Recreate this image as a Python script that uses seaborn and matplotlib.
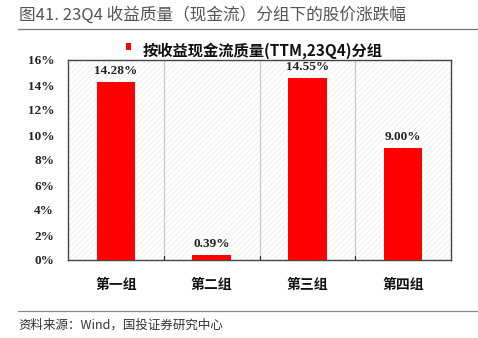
import matplotlib
matplotlib.use("Agg")
import matplotlib.pyplot as plt
import seaborn as sns
import pandas as pd
from matplotlib.patches import Rectangle

groups = ["第一组", "第二组", "第三组", "第四组"]
returns = [14.28, 0.39, 14.55, 9.00]
yticks = [0, 2, 4, 6, 8, 10, 12, 14, 16]
legend_label = "按收益现金流质量(TTM,23Q4)分组"
title = "图41. 23Q4 收益质量（现金流）分组下的股价涨跌幅"
source = "资料来源：Wind，国投证券研究中心"

sns.set_theme(style="white")
plt.rcParams['font.family'] = ['Noto Sans CJK SC', 'DejaVu Sans']
plt.rcParams['hatch.linewidth'] = 0.4
plt.rcParams['hatch.color'] = '#e6e6e6'

df = pd.DataFrame({"group": groups, "ret": returns})

fig = plt.figure(figsize=(4.78, 3.38), dpi=100)
ax = fig.add_axes([68/478, 1-260/338, (451-68)/478, 200/338])

# background hatch
ax.add_patch(Rectangle((0, 0), 1, 1, transform=ax.transAxes, facecolor='white',
                       edgecolor='#e6e6e6', hatch='//////', linewidth=0, zorder=0))

sns.barplot(data=df, x="group", y="ret", color="#ff0000", width=0.4,
            saturation=1, ax=ax, zorder=3, edgecolor="none")

ax.set_ylim(0, 16)
ax.set_xlim(-0.5, 3.5)
ax.set_yticks(yticks)
ax.set_yticklabels([f"{v}%" for v in yticks], fontfamily='Liberation Serif',
                   fontweight='bold', fontsize=9.5, color='#222222')
ax.set_xticks([0, 1, 2, 3])
ax.set_xticklabels(groups, fontweight='bold', fontsize=10, color='#111111')
ax.tick_params(axis='x', length=0, pad=13)
ax.tick_params(axis='y', length=4, direction='in', width=0.8, color='#333333', pad=10)
ax.set_xlabel("")
ax.set_ylabel("")

# vertical separators between categories
for b in [0.5, 1.5, 2.5]:
    ax.axvline(b, color='#c8c8c8', lw=0.9, zorder=2)
    ax.plot([b, b], [0, 0.3], color='#333333', lw=0.9, zorder=4)

for s in ax.spines.values():
    s.set_visible(True)
    s.set_color('#444444')
    s.set_linewidth(1.0)

for i, v in enumerate(returns):
    ax.text(i, v + 0.4, f"{v:.2f}%", ha='center', va='bottom',
            fontfamily='Liberation Serif', fontweight='bold', fontsize=9.5, color='#222222')

# legend
fig.patches.append(Rectangle((126/478, 1-50/338), 5/478, 7/338, transform=fig.transFigure,
                             facecolor='#ff0000', edgecolor='none'))
fig.text(143/478, 1-51/338, legend_label, ha='left', va='center', fontsize=11,
         fontweight='bold', family=['Noto Sans CJK SC', 'DejaVu Sans'], color='#111111')

# title
fig.text(19/478, 1-15/338, title, ha='left', va='center', fontsize=12,
         color='#555555', fontweight='medium')
fig.add_artist(plt.Line2D([18/478, 1], [1-29/338, 1-29/338], color='#777777', lw=0.9,
                          transform=fig.transFigure))
fig.add_artist(plt.Line2D([18/478, 1], [1-311/338, 1-311/338], color='#888888', lw=0.9,
                          transform=fig.transFigure))
fig.text(18/478, 1-325/338, source, ha='left', va='center', fontsize=9,
         color='#333333', style='italic')

fig.savefig("out.png", dpi=100)
